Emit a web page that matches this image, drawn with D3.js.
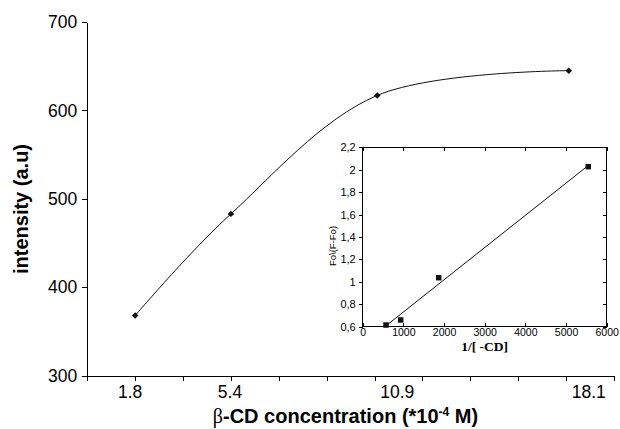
<!DOCTYPE html>
<html>
<head>
<meta charset="utf-8">
<script src="https://cdn.jsdelivr.net/npm/d3@7"></script>
<style>
  body { margin: 0; background: #fff; }
  svg { display: block; font-family: "Liberation Sans", Arial, sans-serif; }
  .axis path, .axis line { stroke: #000; shape-rendering: crispEdges; }
  .axis text { fill: #000; }
</style>
</head>
<body>
<svg id="svg" width="620" height="429"></svg>
<script>
// main chart data
const conc = [1.8, 5.4, 10.9, 18.1];
const intensity = [368, 483, 617, 645];
const concLabels = ["1.8", "5.4", "10.9", "18.1"];
const yTicks = [300, 400, 500, 600, 700];

// inset data (double reciprocal plot)
const invCD = [573, 934, 1869, 5547];
const ratio = [0.615, 0.66, 1.037, 2.027];
const insetXTicks = [0, 1000, 2000, 3000, 4000, 5000, 6000];
const insetYTicks = [0.6, 0.8, 1, 1.2, 1.4, 1.6, 1.8, 2, 2.2];

// layout
const margin = {top: 22, left: 87.3, right: 6, bottom: 53.3};
const width = 620, height = 429;
const labelNudge = [-5, -1, 20, 20];
const inset = {left: 362.7, right: 606.7, top: 147.3, bottom: 326.7};

const svg = d3.select("#svg");

const x = d3.scaleLinear().domain([0, 19.8]).range([margin.left, width - margin.right]);
const y = d3.scaleLinear().domain([300, 700]).range([height - margin.bottom, margin.top]);

// x axis: plain ticks every 1.8
svg.append("g")
    .attr("class", "x axis")
    .attr("transform", "translate(0," + y(300) + ")")
    .call(d3.axisBottom(x)
        .tickValues(d3.range(12).map(i => i * 1.8))
        .tickFormat("")
        .tickSizeInner(5)
        .tickSizeOuter(0));

svg.append("g")
    .selectAll("text")
    .data(conc)
    .join("text")
    .attr("x", (d, i) => x(d) + labelNudge[i])
    .attr("y", 398)
    .attr("text-anchor", "middle")
    .style("font-size", "17.5px")
    .text((d, i) => concLabels[i]);

svg.append("g")
    .attr("class", "y axis")
    .attr("transform", "translate(" + margin.left + ",0)")
    .call(d3.axisLeft(y)
        .tickValues(yTicks)
        .tickSizeInner(5)
        .tickSizeOuter(0)
        .tickPadding(5))
    .selectAll("text")
    .style("font-size", "17.5px");

// axis titles
svg.append("text")
    .attr("transform", "translate(28,209) rotate(-90)")
    .attr("text-anchor", "middle")
    .style("font-size", "20px")
    .style("font-weight", "bold")
    .text("intensity (a.u)");

const xt = svg.append("text")
    .attr("x", 345.5)
    .attr("y", 423)
    .attr("text-anchor", "middle")
    .style("font-size", "20px")
    .style("font-weight", "bold");
xt.append("tspan").style("font-family", "'Liberation Serif', serif").style("font-weight", "normal").text("β");
xt.append("tspan").text("-CD concentration (*10");
xt.append("tspan").attr("dy", -7).style("font-size", "12px").text("-4");
xt.append("tspan").attr("dy", 7).text(" M)");

// main curve
const pts = conc.map((c, i) => [c, intensity[i]]);
svg.append("path")
    .datum(pts)
    .attr("fill", "none")
    .attr("stroke", "#111")
    .attr("stroke-width", 1)
    .attr("d", d3.line()
        .x(d => x(d[0]))
        .y(d => y(d[1]))
        .curve(d3.curveCardinal.tension(0)));

svg.append("g")
    .selectAll("path")
    .data(pts)
    .join("path")
    .attr("transform", d => "translate(" + x(d[0]) + "," + y(d[1]) + ") rotate(45)")
    .attr("d", d3.symbol(d3.symbolSquare, 21))
    .attr("fill", "#111");

// inset
const ix = d3.scaleLinear().domain([0, 6000]).range([inset.left, inset.right]);
const iy = d3.scaleLinear().domain([0.6, 2.2]).range([inset.bottom, inset.top]);
const commaFmt = d => String(+d.toFixed(1)).replace(".", ",");

svg.append("rect")
    .attr("x", inset.left)
    .attr("y", inset.top)
    .attr("width", inset.right - inset.left)
    .attr("height", inset.bottom - inset.top)
    .attr("fill", "#fff")
    .attr("stroke", "#000")
    .attr("shape-rendering", "crispEdges");

svg.append("g")
    .attr("class", "axis")
    .attr("transform", "translate(0," + inset.bottom + ")")
    .call(d3.axisBottom(ix).tickValues(insetXTicks).tickFormat(d3.format("d"))
        .tickSizeInner(-4).tickSizeOuter(0).tickPadding(2))
    .call(g => g.select(".domain").remove())
    .selectAll("text").style("font-size", "10.5px");

svg.append("g")
    .attr("class", "axis")
    .attr("transform", "translate(" + inset.left + ",0)")
    .call(d3.axisLeft(iy).tickValues(insetYTicks).tickFormat(commaFmt).tickSizeInner(4).tickSizeOuter(0).tickPadding(3))
    .call(g => g.select(".domain").remove())
    .selectAll("text").style("font-size", "11px");

svg.append("g")
    .attr("class", "axis")
    .attr("transform", "translate(0," + inset.top + ")")
    .call(d3.axisTop(ix).tickValues(insetXTicks).tickFormat("").tickSizeInner(-4).tickSizeOuter(0))
    .call(g => g.select(".domain").remove());

svg.append("g")
    .attr("class", "axis")
    .attr("transform", "translate(" + inset.right + ",0)")
    .call(d3.axisRight(iy).tickValues(insetYTicks).tickFormat("").tickSizeInner(-4).tickSizeOuter(0))
    .call(g => g.select(".domain").remove());

// least squares trend line through the inset points
const mx = d3.mean(invCD), my = d3.mean(ratio);
const slope = d3.sum(invCD, (v, i) => (v - mx) * (ratio[i] - my)) / d3.sum(invCD, v => (v - mx) * (v - mx));
const icpt = my - slope * mx;
const xEnds = d3.extent(invCD);
svg.append("line")
    .attr("x1", ix(xEnds[0])).attr("y1", iy(icpt + slope * xEnds[0]))
    .attr("x2", ix(xEnds[1])).attr("y2", iy(icpt + slope * xEnds[1]))
    .attr("stroke", "#111");

svg.append("g")
    .selectAll("path")
    .data(invCD)
    .join("path")
    .attr("transform", (d, i) => "translate(" + ix(d) + "," + iy(ratio[i]) + ")")
    .attr("d", d3.symbol(d3.symbolSquare, 30))
    .attr("fill", "#111");

svg.append("text")
    .attr("x", (inset.left + inset.right) / 2)
    .attr("y", 351)
    .attr("text-anchor", "middle")
    .style("font-family", "'Liberation Serif', 'Times New Roman', serif")
    .style("font-weight", "bold")
    .style("font-size", "13.5px")
    .text("1/[ -CD]");

svg.append("text")
    .attr("transform", "translate(336,246) rotate(-90)")
    .attr("text-anchor", "middle")
    .style("font-size", "9.5px")
    .text("Fo\\(F-Fo)");
</script>
</body>
</html>
